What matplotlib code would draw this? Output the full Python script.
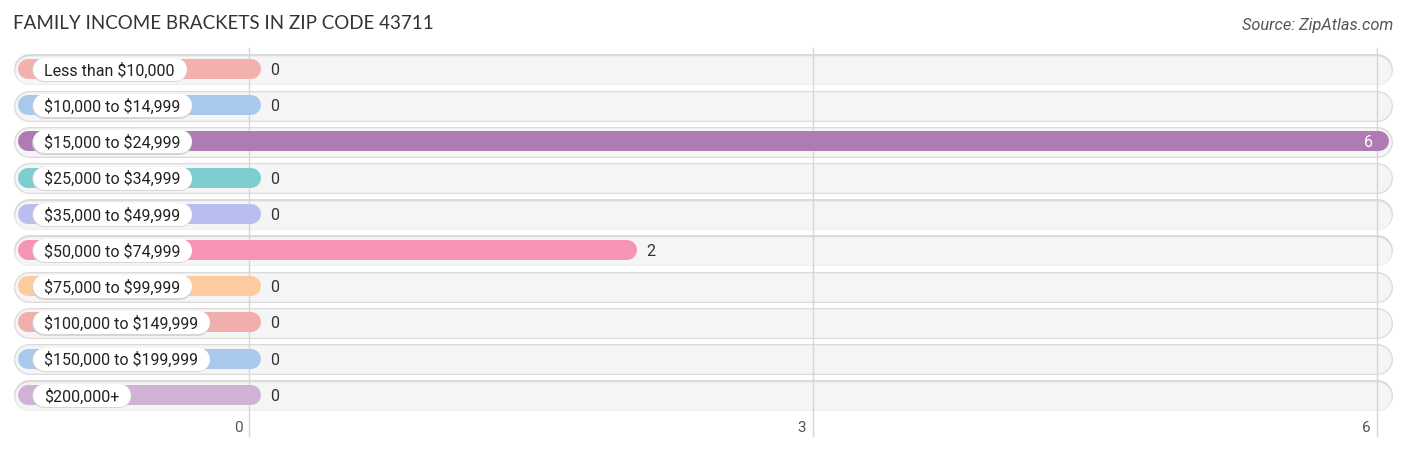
import matplotlib
matplotlib.use("Agg")
import matplotlib.pyplot as plt

plt.rcParams["text.parse_math"] = False

categories = ["Less than $10,000", "$10,000 to $14,999", "$15,000 to $24,999",
              "$25,000 to $34,999", "$35,000 to $49,999", "$50,000 to $74,999",
              "$75,000 to $99,999", "$100,000 to $149,999", "$150,000 to $199,999",
              "$200,000+"]
values = [0, 0, 6, 0, 0, 2, 0, 0, 0, 0]
colors = ["#f2b1ae", "#a9c9ec", "#ae7bb3", "#7ecdd0", "#b8bfee",
          "#f695b3", "#fccb9f", "#f0afad", "#a9c9ec", "#d0b2d6"]
ticks = [0, 3, 6]
title = "FAMILY INCOME BRACKETS IN ZIP CODE 43711"
source = "Source: ZipAtlas.com"

W, H, DPI = 1406, 450, 100
PXU = 188.0      # pixels per value unit
ZERO = 249.0     # pixel x of value 0
ROW0 = 69.0      # pixel y of first row center
ROWH = 36.2      # pixel row spacing
PT = 72.0 / DPI  # points per pixel

fig = plt.figure(figsize=(W / DPI, H / DPI), dpi=DPI)
ax = fig.add_axes([0, 0, 1, 1])
ax.set_xlim(-ZERO / PXU, (W - ZERO) / PXU)
ax.set_ylim((H - ROW0) / ROWH, -ROW0 / ROWH)
ax.axis("off")

def px(xp):
    return (xp - ZERO) / PXU

def py(yp):
    return (yp - ROW0) / ROWH

font = "Roboto"

renderer = fig.canvas.get_renderer()

for i, (cat, val, col) in enumerate(zip(categories, values, colors)):
    # background pill
    ax.plot([px(14 + 15), px(1392 - 15)], [i + 0.5 / ROWH] * 2, color="#dadada",
            lw=31 * PT, solid_capstyle="round", zorder=1)
    ax.plot([px(14 + 15), px(1392 - 15)], [i + 0.8 / ROWH] * 2, color="#f5f5f5",
            lw=28.5 * PT, solid_capstyle="round", zorder=1.1)
    # coloured bar
    end = val + 2 / PXU
    ax.plot([px(28), end], [i, i], color=col, lw=20 * PT,
            solid_capstyle="round", zorder=3)
    # label text
    t = ax.text(px(44), i, cat, fontsize=11.5, family=font, color="#222222",
                ha="left", va="center_baseline", zorder=6)
    bb = t.get_window_extent(renderer=renderer)
    right_px = bb.x1 + 12
    # label pill (shadow + white)
    ax.plot([px(32 + 12), px(right_px - 12)], [i + 1.5 / ROWH] * 2, color="#cfcfcf",
            lw=24 * PT, solid_capstyle="round", zorder=4, alpha=0.8)
    ax.plot([px(32 + 12), px(right_px - 12)], [i, i], color="white",
            lw=23 * PT, solid_capstyle="round", zorder=5)
    # value label
    if val >= 5:
        ax.text(val - 4 / PXU, i, str(val), fontsize=11.5, family=font, color="white",
                ha="right", va="center_baseline", zorder=7)
    else:
        ax.text(val + 21 / PXU, i, str(val), fontsize=11.5, family=font, color="#333333",
                ha="left", va="center_baseline", zorder=7)

# gridlines
for tk in ticks:
    ax.plot([tk, tk], [py(48), py(436)], color="#d6d6d6", lw=1.0, zorder=2)
    ax.text(tk - 11 / PXU, py(426), str(tk), fontsize=11, family=font,
            color="#555555", ha="center", va="center_baseline")

fig.text(13 / W, 1 - 22 / H, title, fontsize=13.5, family="Lato", color="#333333",
         ha="left", va="center_baseline")
fig.text(1393 / W, 1 - 24 / H, source, fontsize=11.8, family=font, style="italic",
         color="#555555", ha="right", va="center_baseline")

fig.savefig("out.png", dpi=DPI)
